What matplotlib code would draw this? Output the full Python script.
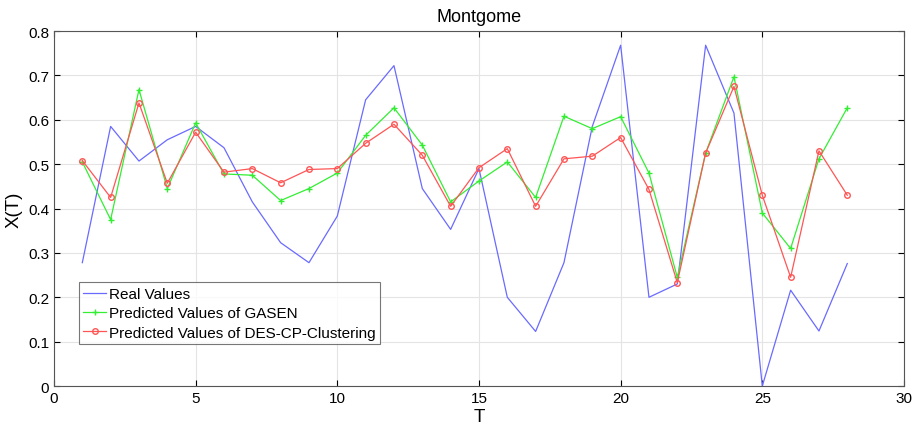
import numpy as np
import matplotlib.pyplot as plt

plt.rcParams['font.family'] = ['Liberation Sans', 'DejaVu Sans']

T = np.arange(1, 29)
real = [0.278, 0.585, 0.507, 0.555, 0.585, 0.537, 0.415, 0.323, 0.278, 0.383,
        0.645, 0.722, 0.445, 0.353, 0.490, 0.200, 0.123, 0.278, 0.585, 0.768,
        0.200, 0.230, 0.768, 0.615, 0.000, 0.216, 0.124, 0.276]
gasen = [0.505, 0.375, 0.668, 0.445, 0.593, 0.478, 0.475, 0.418, 0.445, 0.480,
         0.565, 0.627, 0.543, 0.415, 0.462, 0.505, 0.425, 0.608, 0.580, 0.607,
         0.480, 0.245, 0.525, 0.697, 0.390, 0.310, 0.512, 0.627]
des = [0.508, 0.425, 0.638, 0.457, 0.572, 0.482, 0.490, 0.458, 0.488, 0.490,
       0.547, 0.590, 0.520, 0.405, 0.492, 0.535, 0.405, 0.512, 0.518, 0.560,
       0.443, 0.233, 0.525, 0.675, 0.430, 0.245, 0.530, 0.430]

fig = plt.figure(figsize=(9.21, 4.31), dpi=100)
ax = fig.add_axes([0.0586, 0.102, 0.9229, 0.8237])

ax.plot(T, real, '-', color='#6a6aff', lw=0.9, label='Real Values')
ax.plot(T, gasen, '-+', color='#33ee33', lw=0.9, markersize=4.5, label='Predicted Values of GASEN')
ax.plot(T, des, '-o', color='#ff5555', lw=0.9, markersize=4, markerfacecolor='none',
        label='Predicted Values of DES-CP-Clustering')

ax.set_xlim(0, 30)
ax.set_ylim(0, 0.8)
ax.set_xticks(np.arange(0, 31, 5))
ax.set_yticks(np.arange(0, 0.81, 0.1))
ax.set_yticklabels(['0', '0.1', '0.2', '0.3', '0.4', '0.5', '0.6', '0.7', '0.8'])
ax.grid(True, color='#e4e4e4', lw=0.8)
ax.tick_params(direction='in', top=True, right=True, labelsize=11, length=4)
for s in ax.spines.values():
    s.set_color('#555555')

ax.set_title('Montgome', fontsize=13, pad=7)
ax.set_xlabel('T', fontsize=13.5, labelpad=2)
ax.set_ylabel('X(T)', fontsize=13.5, labelpad=4)

leg = ax.legend(loc='lower left', bbox_to_anchor=(0.029, 0.118), fontsize=11, fancybox=False,
                edgecolor='#555555', borderpad=0.3, labelspacing=0.35, handlelength=1.5,
                handletextpad=0.2, borderaxespad=0)
leg.get_frame().set_linewidth(0.8)

plt.savefig('out.png')
